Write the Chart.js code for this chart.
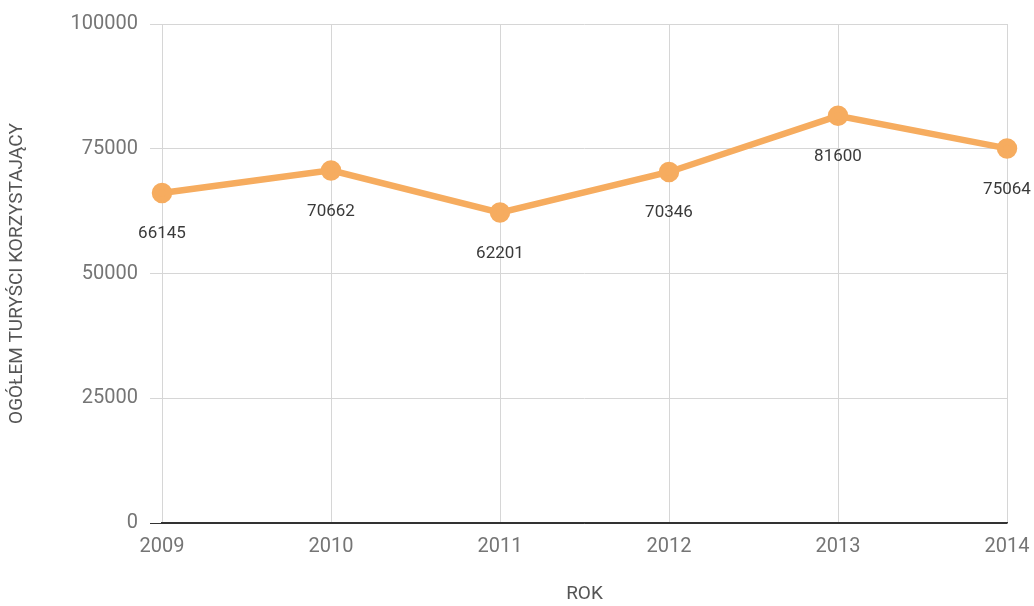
<!DOCTYPE html>
<html>
<head>
<meta charset="utf-8">
<script src="https://cdn.jsdelivr.net/npm/chart.js@4"></script>
<style>
  html, body { margin: 0; padding: 0; background: #fff; }
  #wrap { width: 1034px; height: 606px; }
</style>
</head>
<body>
<div id="wrap"><canvas id="chart"></canvas></div>
<script>
  const YEARS = ["2009", "2010", "2011", "2012", "2013", "2014"];
  const TOURISTS = [66145, 70662, 62201, 70346, 81600, 75064];
  const Y_TICKS = [0, 25000, 50000, 75000, 100000];

  const FONT = "Roboto";

  // etykiety z wartościami pod punktami
  const valueLabels = {
    id: "valueLabels",
    afterDatasetsDraw(chart) {
      const ctx = chart.ctx;
      const meta = chart.getDatasetMeta(0);
      ctx.save();
      ctx.font = `17px ${FONT}`;
      ctx.fillStyle = "#3a3a3a";
      ctx.textAlign = "center";
      ctx.textBaseline = "middle";
      meta.data.forEach((pt, i) => {
        ctx.fillText(String(TOURISTS[i]), pt.x, pt.y + 41);
      });
      ctx.restore();
    }
  };

  new Chart(document.getElementById("chart"), {
    type: "line",
    data: {
      labels: YEARS,
      datasets: [{
        data: TOURISTS,
        borderColor: "#F6AC5F",
        backgroundColor: "#F6AC5F",
        borderWidth: 6.5,
        pointRadius: 7,
        pointHoverRadius: 7,
        tension: 0
      }]
    },
    options: {
      responsive: true,
      maintainAspectRatio: false,
      animation: false,
      layout: { padding: { top: 23, right: 27, left: 0, bottom: 0 } },
      plugins: { legend: { display: false }, tooltip: { enabled: false } },
      scales: {
        x: {
          offset: false,
          grid: { color: "#d6d6d6", lineWidth: 1, drawTicks: false },
          border: { display: true, color: "#333", width: 1.5 },
          ticks: { color: "#757575", font: { family: FONT, size: 20 }, padding: 12, maxRotation: 0 },
          title: { display: true, text: "ROK", color: "#555", font: { family: FONT, size: 19 }, padding: { top: 0, bottom: 0 } },
          afterFit(scale) {
            scale.height = 83;
            scale.paddingLeft = 0;
            scale.paddingRight = 0;
          }
        },
        y: {
          min: 0,
          max: 100000,
          afterBuildTicks(scale) { scale.ticks = Y_TICKS.map(v => ({ value: v })); },
          grid: {
            color: ctx => ctx.tick && ctx.tick.value === 0 ? "#333" : "#d6d6d6",
            tickLength: 12,
            lineWidth: 1
          },
          border: { display: false },
          ticks: {
            color: "#757575",
            font: { family: FONT, size: 20 },
            padding: 12,
            callback: v => String(v)
          },
          title: { display: true, text: "OGÓŁEM TURYŚCI KORZYSTAJĄCY", color: "#555", font: { family: FONT, size: 19 }, padding: { top: 6, bottom: 0 } },
          afterFit(scale) { scale.width = 162; }
        }
      }
    },
    plugins: [valueLabels]
  });
</script>
</body>
</html>
